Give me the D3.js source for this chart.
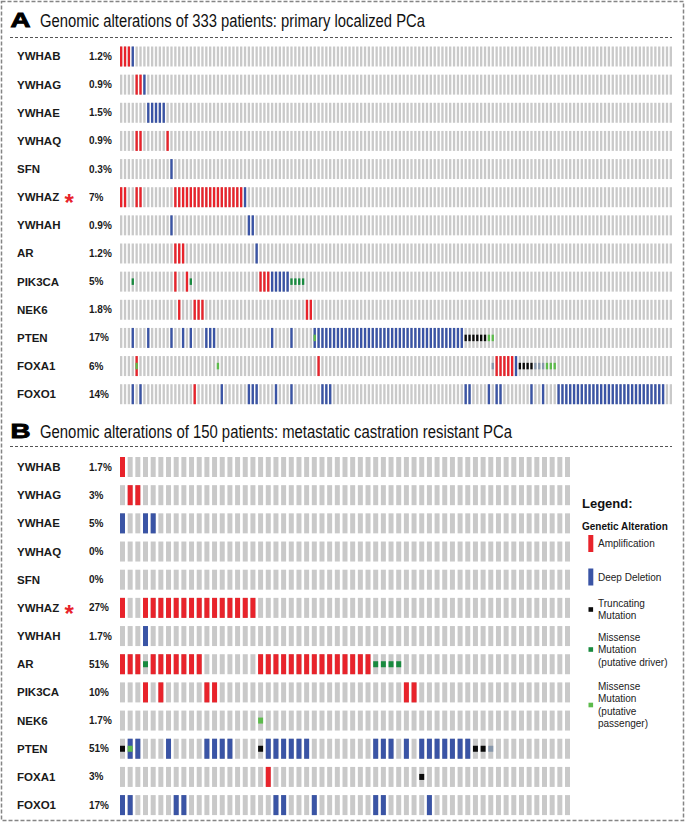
<!DOCTYPE html>
<html>
<head>
<meta charset="utf-8">
<script src="https://cdn.jsdelivr.net/npm/d3@7"></script>
<style>
body { margin: 0; background: #fff; }
text { font-family: "Liberation Sans", Arial, sans-serif; fill: #1a1a1a; }
.gene { font-size: 11.5px; font-weight: bold; }
.pct { font-size: 10px; font-weight: bold; }
.letter { font-size: 21px; font-weight: bold; fill: #000; stroke: #000; stroke-width: 0.9px; }
.title { font-family: "Liberation Sans Narrow", "Arial Narrow", "Liberation Sans", sans-serif; font-size: 17.5px; fill: #111; }
.leg { font-size: 10px; fill: #222; }
</style>
</head>
<body>
<script>
var svgWidth = 685, svgHeight = 825;

var genes = ['YWHAB', 'YWHAG', 'YWHAE', 'YWHAQ', 'SFN', 'YWHAZ', 'YWHAH',
             'AR', 'PIK3CA', 'NEK6', 'PTEN', 'FOXA1', 'FOXO1'];

var pctA = ['1.2%', '0.9%', '1.5%', '0.9%', '0.3%', '7%', '0.9%',
            '1.2%', '5%', '1.8%', '17%', '6%', '14%'];
var pctB = ['1.7%', '3%', '5%', '0%', '0%', '27%', '1.7%',
            '51%', '10%', '1.7%', '51%', '3%', '17%'];

var colsA = d3.range(143);   // altered samples shown, panel A
var colsB = d3.range(59);    // samples shown, panel B

// alterations: [gene, first column, last column, type]
var altA = [
    ['YWHAB', 0, 2, 'amp'], ['YWHAB', 3, 3, 'del'],
    ['YWHAG', 4, 5, 'amp'], ['YWHAG', 6, 6, 'del'],
    ['YWHAE', 7, 11, 'del'],
    ['YWHAQ', 4, 5, 'amp'], ['YWHAQ', 12, 12, 'amp'],
    ['SFN', 13, 13, 'del'],
    ['YWHAZ', 0, 1, 'amp'], ['YWHAZ', 4, 5, 'amp'], ['YWHAZ', 14, 31, 'amp'], ['YWHAZ', 32, 32, 'del'],
    ['YWHAH', 13, 13, 'del'], ['YWHAH', 33, 34, 'del'],
    ['AR', 14, 16, 'amp'], ['AR', 35, 35, 'del'],
    ['PIK3CA', 3, 3, 'driver'], ['PIK3CA', 14, 14, 'amp'], ['PIK3CA', 17, 17, 'amp'],
    ['PIK3CA', 18, 18, 'driver'], ['PIK3CA', 36, 38, 'amp'], ['PIK3CA', 39, 43, 'del'],
    ['PIK3CA', 44, 47, 'driver'],
    ['NEK6', 15, 15, 'amp'], ['NEK6', 19, 21, 'amp'], ['NEK6', 48, 49, 'amp'],
    ['PTEN', 3, 3, 'del'], ['PTEN', 7, 7, 'del'], ['PTEN', 13, 13, 'del'], ['PTEN', 16, 16, 'del'],
    ['PTEN', 18, 18, 'del'], ['PTEN', 22, 24, 'del'], ['PTEN', 39, 39, 'del'], ['PTEN', 44, 44, 'del'],
    ['PTEN', 50, 88, 'del'], ['PTEN', 50, 50, 'passenger'], ['PTEN', 89, 94, 'trunc'],
    ['PTEN', 95, 96, 'passenger'],
    ['FOXA1', 4, 4, 'amp'], ['FOXA1', 4, 4, 'passenger'], ['FOXA1', 25, 25, 'passenger'],
    ['FOXA1', 51, 51, 'amp'], ['FOXA1', 96, 96, 'other'], ['FOXA1', 97, 101, 'amp'],
    ['FOXA1', 102, 102, 'del'], ['FOXA1', 103, 106, 'trunc'], ['FOXA1', 107, 109, 'other'],
    ['FOXA1', 110, 112, 'passenger'],
    ['FOXO1', 3, 3, 'del'], ['FOXO1', 5, 5, 'del'], ['FOXO1', 19, 19, 'amp'], ['FOXO1', 26, 26, 'del'],
    ['FOXO1', 33, 35, 'del'], ['FOXO1', 40, 40, 'del'], ['FOXO1', 44, 44, 'del'],
    ['FOXO1', 52, 54, 'del'], ['FOXO1', 89, 90, 'del'], ['FOXO1', 95, 95, 'del'],
    ['FOXO1', 97, 98, 'del'], ['FOXO1', 106, 106, 'del'], ['FOXO1', 109, 109, 'del'],
    ['FOXO1', 113, 140, 'del']
];

var altB = [
    ['YWHAB', 0, 0, 'amp'],
    ['YWHAG', 1, 2, 'amp'],
    ['YWHAE', 0, 0, 'del'], ['YWHAE', 3, 4, 'del'],
    ['YWHAZ', 0, 0, 'amp'], ['YWHAZ', 3, 17, 'amp'],
    ['YWHAH', 3, 3, 'del'],
    ['AR', 0, 2, 'amp'], ['AR', 3, 3, 'driver'], ['AR', 4, 10, 'amp'], ['AR', 18, 32, 'amp'],
    ['AR', 33, 36, 'driver'],
    ['PIK3CA', 3, 3, 'amp'], ['PIK3CA', 5, 5, 'amp'], ['PIK3CA', 11, 12, 'amp'], ['PIK3CA', 37, 38, 'amp'],
    ['NEK6', 18, 18, 'passenger'],
    ['PTEN', 0, 0, 'trunc'], ['PTEN', 1, 2, 'del'], ['PTEN', 1, 1, 'passenger'], ['PTEN', 6, 6, 'del'],
    ['PTEN', 11, 14, 'del'], ['PTEN', 18, 18, 'trunc'], ['PTEN', 19, 24, 'del'], ['PTEN', 33, 35, 'del'],
    ['PTEN', 37, 37, 'del'], ['PTEN', 39, 45, 'del'], ['PTEN', 46, 47, 'trunc'], ['PTEN', 48, 48, 'other'],
    ['FOXA1', 19, 19, 'amp'], ['FOXA1', 39, 39, 'trunc'],
    ['FOXO1', 0, 1, 'del'], ['FOXO1', 7, 8, 'del'], ['FOXO1', 20, 21, 'del'], ['FOXO1', 25, 25, 'del'],
    ['FOXO1', 33, 34, 'del'], ['FOXO1', 40, 40, 'del']
];

var legendKeys = ['amp', 'del', 'trunc', 'driver', 'passenger'];
var legendLines = [
    ['Amplification'],
    ['Deep Deletion'],
    ['Truncating', 'Mutation'],
    ['Missense', 'Mutation', '(putative driver)'],
    ['Missense', 'Mutation', '(putative', 'passenger)']
];

var colour = {
    none: '#c9c9c9',
    amp: '#e8232b',
    del: '#3a54a5',
    trunc: '#0a0a0a',
    driver: '#198a3f',
    passenger: '#5dbb4c',
    other: '#8797ab'
};
var fullBar = { amp: true, del: true };

var svg = d3.select('body')
    .append('svg')
    .attr('width', svgWidth)
    .attr('height', svgHeight);

svg.append('rect')
    .attr('x', 1.5).attr('y', 1.5)
    .attr('width', 682).attr('height', 819)
    .attr('fill', 'none')
    .attr('stroke', '#858585')
    .attr('stroke-width', 1.5)
    .attr('stroke-dasharray', '4,2');

function drawPanel(p) {
    var g = svg.append('g');

    g.append('text').attr('class', 'letter')
        .attr('x', 10.5).attr('y', p.titleY)
        .attr('textLength', 20).attr('lengthAdjust', 'spacingAndGlyphs')
        .text(p.letter);
    g.append('text').attr('class', 'title')
        .attr('x', 40).attr('y', p.titleY)
        .attr('textLength', p.titleLen).attr('lengthAdjust', 'spacingAndGlyphs')
        .text(p.title);

    g.append('line')
        .attr('x1', 10).attr('x2', 672)
        .attr('y1', p.lineY).attr('y2', p.lineY)
        .attr('stroke', '#555').attr('stroke-dasharray', '3,2');

    var xScale = d3.scaleBand()
        .domain(p.cols)
        .range(p.xRange)
        .paddingInner(p.xPad);

    var yScale = d3.scaleBand()
        .domain(genes)
        .range(p.yRange)
        .paddingInner(0.29);

    var bw = xScale.bandwidth(), bh = yScale.bandwidth();

    // gene names and percentages
    g.selectAll('text.gene')
        .data(genes)
        .enter().append('text')
        .attr('class', 'gene')
        .attr('x', 17)
        .attr('y', function(d) { return yScale(d) + bh / 2 + 4; })
        .text(function(d) { return d; });

    g.selectAll('text.pct')
        .data(p.pct)
        .enter().append('text')
        .attr('class', 'pct')
        .attr('x', 89)
        .attr('y', function(d, i) { return yScale(genes[i]) + bh / 2 + 3.5; })
        .text(function(d) { return d; });

    g.append('text')
        .attr('x', 64.5)
        .attr('y', yScale('YWHAZ') + bh / 2 + 14)
        .style('font-size', '24px').style('font-weight', 'bold').style('fill', colour.amp)
        .text('*');

    // background cells
    var cells = [];
    genes.forEach(function(gene) {
        p.cols.forEach(function(c) { cells.push([gene, c]); });
    });
    g.selectAll('rect.cell')
        .data(cells)
        .enter().append('rect')
        .attr('class', 'cell')
        .attr('x', function(d) { return xScale(d[1]); })
        .attr('y', function(d) { return yScale(d[0]); })
        .attr('width', bw)
        .attr('height', bh)
        .attr('fill', colour.none);

    // expand runs into single cells
    var bars = [], muts = [];
    p.alt.forEach(function(a) {
        d3.range(a[1], a[2] + 1).forEach(function(c) {
            (fullBar[a[3]] ? bars : muts).push({ gene: a[0], col: c, type: a[3] });
        });
    });

    g.selectAll('rect.cna')
        .data(bars)
        .enter().append('rect')
        .attr('class', 'cna')
        .attr('x', function(d) { return xScale(d.col); })
        .attr('y', function(d) { return yScale(d.gene); })
        .attr('width', bw)
        .attr('height', bh)
        .attr('fill', function(d) { return colour[d.type]; });

    g.selectAll('rect.mut')
        .data(muts)
        .enter().append('rect')
        .attr('class', 'mut')
        .attr('x', function(d) { return xScale(d.col); })
        .attr('y', function(d) { return yScale(d.gene) + (bh - p.mutH) / 2; })
        .attr('width', bw)
        .attr('height', p.mutH)
        .attr('fill', function(d) { return colour[d.type]; });
}

drawPanel({
    letter: 'A',
    title: 'Genomic alterations of 333 patients: primary localized PCa',
    titleY: 27, titleLen: 385, lineY: 37.5,
    cols: colsA, xRange: [120, 672], xPad: 0.4,
    yRange: [46.5, 404.2],
    pct: pctA, alt: altA, mutH: 6.5
});

drawPanel({
    letter: 'B',
    title: 'Genomic alterations of 150 patients: metastatic castration resistant PCa',
    titleY: 438, titleLen: 472, lineY: 446.5,
    cols: colsB, xRange: [120, 570], xPad: 0.35,
    yRange: [457, 815.1],
    pct: pctB, alt: altB, mutH: 6
});

// legend
var legend = svg.append('g');
legend.append('text')
    .attr('x', 582).attr('y', 508)
    .style('font-size', '13px').style('font-weight', 'bold').style('fill', '#111')
    .text('Legend:');
legend.append('text')
    .attr('x', 582).attr('y', 529.5)
    .style('font-size', '10px').style('font-weight', 'bold').style('fill', '#111')
    .text('Genetic Alteration');

var legendY = [543.5, 577, 609.5, 649.5, 705];

legendKeys.forEach(function(k, i) {
    var cy = legendY[i];
    if (fullBar[k]) {
        legend.append('rect')
            .attr('x', 588.3).attr('y', cy - 8.5)
            .attr('width', 5).attr('height', 17)
            .attr('fill', colour[k]);
    } else {
        legend.append('rect')
            .attr('x', 588.5).attr('y', cy - 2.3)
            .attr('width', 4.6).attr('height', 4.6)
            .attr('fill', colour[k]);
    }
    var lines = legendLines[i];
    var first = cy - (lines.length - 1) * 12.5 / 2 + 3.5;
    lines.forEach(function(line, j) {
        legend.append('text')
            .attr('class', 'leg')
            .attr('x', 598)
            .attr('y', first + j * 12.5)
            .text(line);
    });
});
</script>
</body>
</html>
